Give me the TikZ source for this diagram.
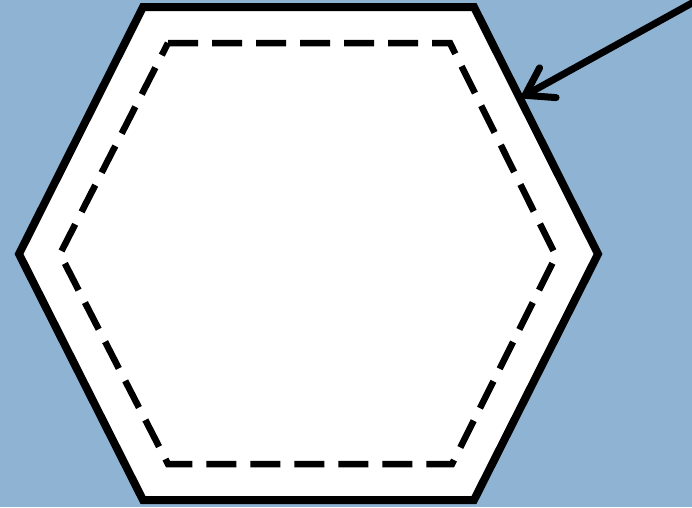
\documentclass[tikz,border=0pt]{standalone}
\usepackage{tikz}
\usetikzlibrary{arrows.meta}
\definecolor{skyback}{RGB}{143,180,211}
\tikzset{
  outerhex/.style = {draw=black, fill=white, line width=8pt, line join=miter},
  innerhex/.style = {draw=black, line width=6.5pt, dash pattern=on 30pt off 14pt},
  pointer/.style  = {-{Straight Barb[length=26pt,width=34pt,round]}, draw=black,
                     line width=7pt, line cap=round, line join=round},
}
\begin{document}
\begin{tikzpicture}[x=1pt,y=-1pt]
  % ---------- background ----------------------------------------------
  \fill[skyback] (0,0) rectangle (692,507);
  \useasboundingbox (0,0) rectangle (692,507);

  % ---------- outer hexagon -------------------------------------------
  \coordinate (otl) at (143,7);
  \coordinate (otr) at (474,7);
  \coordinate (orr) at (598,254);
  \coordinate (obr) at (474,500);
  \coordinate (obl) at (143,500);
  \coordinate (oll) at (19,254);
  \draw[outerhex] (otl) -- (otr) -- (orr) -- (obr) -- (obl) -- (oll) -- cycle;

  % ---------- dashed inner hexagon ------------------------------------
  \coordinate (itl) at (168,43);
  \coordinate (itr) at (450,43);
  \coordinate (irr) at (556,256);
  \coordinate (ibr) at (452,464);
  \coordinate (ibl) at (168,464);
  \coordinate (ill) at (60,254);
  \draw[innerhex] (itl) -- (itr) -- (irr) -- (ibr) -- (ibl) -- (ill) -- cycle;

  % ---------- arrow ---------------------------------------------------
  \coordinate (start) at (692,3);
  \coordinate (tip) at (522,97);
  \draw[pointer] (start) -- (tip);
\end{tikzpicture}
\end{document}
